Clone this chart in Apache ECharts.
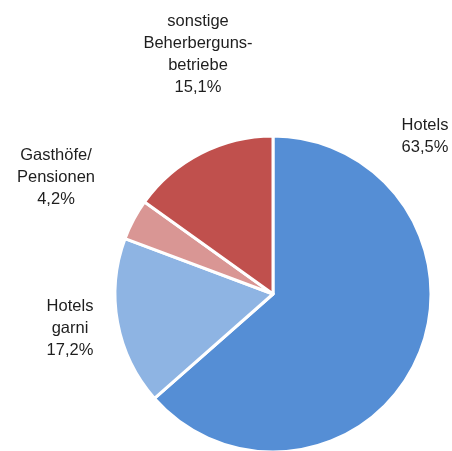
<!DOCTYPE html>
<html><head><meta charset="utf-8">
<script src="https://cdn.jsdelivr.net/npm/echarts@6/dist/echarts.min.js"></script>
<style>html,body{margin:0;padding:0;background:#fff}#c{width:452px;height:451px}</style>
</head><body><div id="c"></div>
<script>
var categories = ['Hotels', 'Hotels\ngarni', 'Gasthöfe/\nPensionen', 'sonstige\nBeherberguns-\nbetriebe'];
var shares = [63.5, 17.2, 4.2, 15.1];
var colors = ['#558ED5', '#8EB4E3', '#D99694', '#C0504D'];
var labelPos = [[425, 136], [70, 328], [56, 177], [198, 54]];

var chart = echarts.init(document.getElementById('c'), null, {renderer: 'canvas'});
chart.setOption({
  animation: false,
  series: [{
    type: 'pie',
    center: [273, 294],
    radius: [0, 158],
    startAngle: 90,
    clockwise: true,
    avoidLabelOverlap: false,
    data: categories.map(function (n, i) {
      return {name: n, value: shares[i], itemStyle: {color: colors[i]}};
    }),
    itemStyle: {borderColor: '#fff', borderWidth: 3},
    label: {
      show: true,
      position: 'inside',
      color: '#1e1e1e',
      fontFamily: 'Liberation Sans, Arial, sans-serif',
      fontSize: 16.5,
      lineHeight: 22,
      align: 'center',
      formatter: function (p) {
        return p.name + '\n' + p.value.toFixed(1).replace('.', ',') + '%';
      }
    },
    labelLine: {show: false},
    labelLayout: function (p) {
      var pos = labelPos[p.dataIndex];
      return {x: pos[0], y: pos[1], align: 'center', verticalAlign: 'middle', hideOverlap: false};
    }
  }]
});
</script></body></html>
